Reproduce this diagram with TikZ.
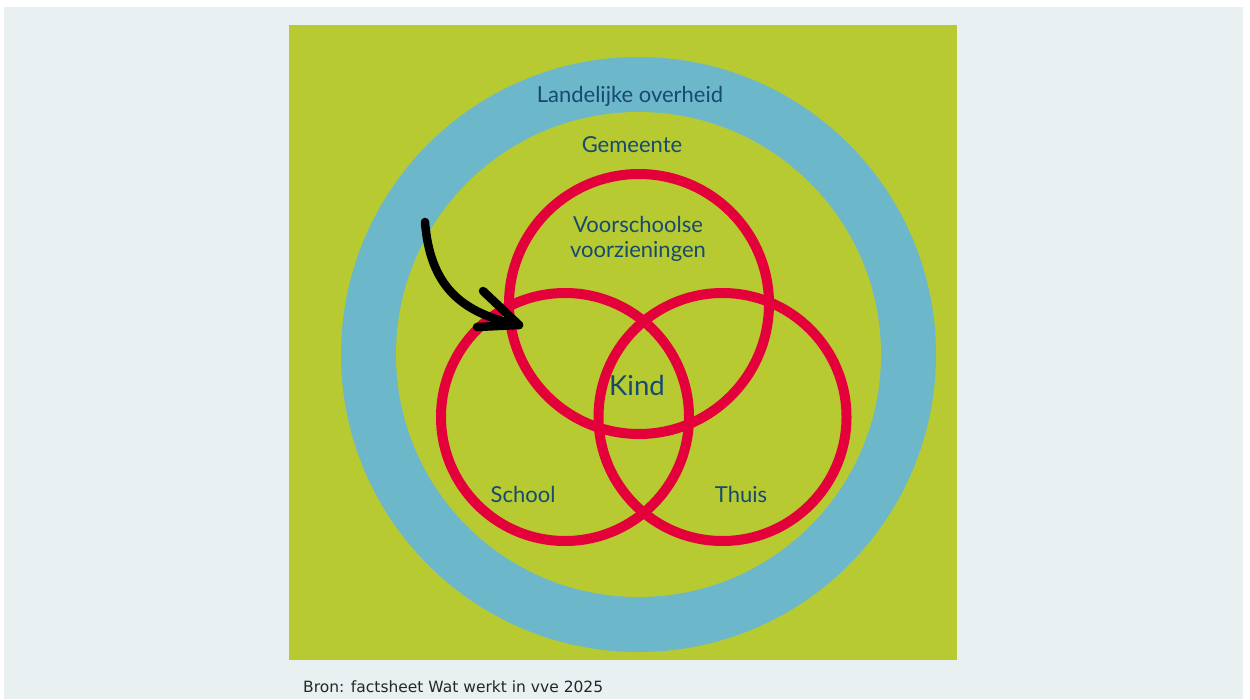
\documentclass[tikz,border=0pt]{standalone}
\usepackage{fontspec}
\setmainfont{Lato}
\newfontfamily\bronfont{DejaVu Sans}
\definecolor{paneel}{RGB}{232,240,241}
\definecolor{vvegroen}{RGB}{183,202,50}
\definecolor{vveblauw}{RGB}{109,183,203}
\definecolor{vverood}{RGB}{228,0,58}
\definecolor{donkerblauw}{RGB}{22,74,112}
\begin{document}
\begin{tikzpicture}[x=1pt,y=-1pt,
		tekst/.style={text=donkerblauw,font=\fontsize{22}{25}\selectfont,align=center,inner sep=0pt},
		ring/.style={draw=vverood,line width=10pt},
		penseel/.style={draw=black,line width=8.5pt,line cap=round,line join=round}]
		\useasboundingbox (0,0) rectangle (1250,699);
		\fill[white] (0,0) rectangle (1250,699);
		\fill[paneel] (4,7) rectangle (1243,699);
		\fill[vvegroen] (289,25) rectangle (957,660);
		
		\coordinate (centrum) at (638.5,354.5);
		\fill[vveblauw] (centrum) circle (297.5pt);
		\fill[vvegroen] (centrum) circle (242.5pt);
		
		\coordinate (vvoor) at (639,304);
		\coordinate (vschool) at (565,417);
		\coordinate (vthuis) at (722.5,417);
		\draw[ring] (vvoor) circle (130pt);
		\draw[ring] (vschool) circle (124pt);
		\draw[ring] (vthuis) circle (124pt);
		
		\node[tekst] (landelijk) at (630,96) {Landelijke overheid};
		\node[tekst] (gemeente) at (632,145) {Gemeente};
		\node[tekst] (voorschool) at (638,239) {Voorschoolse\\voorzieningen};
		\node[tekst,font=\fontsize{27.5}{30}\selectfont] (kind) at (637,385) {Kind};
		\node[tekst] (school) at (523,494) {School};
		\node[tekst] (thuis) at (741,494) {Thuis};
		
		\coordinate (start) at (425,222);
		\coordinate (punt) at (519,325);
		\coordinate (hoek1) at (483,291);
		\coordinate (hoek2) at (477,327);
		\draw[penseel] (start) .. controls (430,285) and (460,313) .. (punt);
		\draw[penseel] (hoek1) -- (punt) -- (hoek2);
		
		\node[anchor=west,inner sep=0pt,text=black!85,font=\bronfont\fontsize{15.5}{18}\selectfont] (bron) at (303,687) {Bron: factsheet Wat werkt in vve 2025};
\end{tikzpicture}
\end{document}
